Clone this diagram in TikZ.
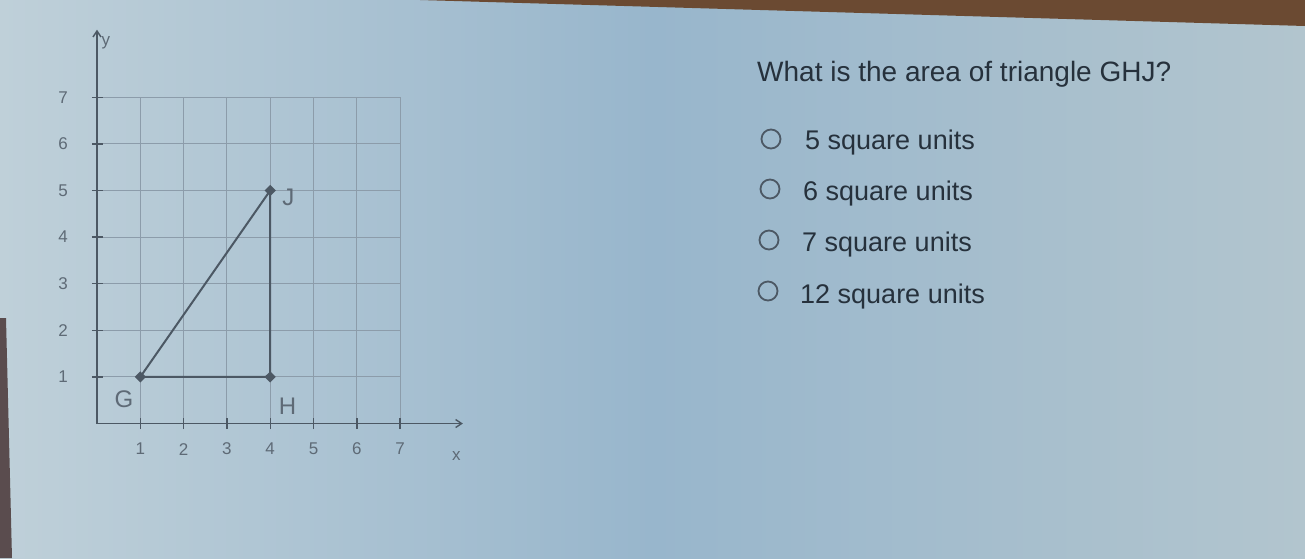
\documentclass[tikz,border=0pt]{standalone}
\usepackage{fontspec}
\setmainfont{Liberation Sans}
\usetikzlibrary{arrows.meta}
\definecolor{bgL}{HTML}{BFD0D9}
\definecolor{bgM}{HTML}{98B6CC}
\definecolor{bgR}{HTML}{B2C5CE}
\definecolor{ink}{HTML}{26313C}
\definecolor{gridc}{HTML}{8C9CAA}
\definecolor{axisc}{HTML}{4C5864}
\definecolor{tickc}{HTML}{5E6A76}
\definecolor{desk}{HTML}{6B4A32}
\definecolor{edge}{HTML}{5A4C4E}
\tikzset{
  gridline/.style={gridc, line width=1pt},
  axisline/.style={axisc, line width=1.6pt, -{Straight Barb[length=6pt,width=8pt,line width=1.4pt]}},
  tickmark/.style={axisc, line width=1.4pt},
  ticklabel/.style={text=tickc, font=\fontsize{17}{17}\selectfont, inner sep=0pt},
  ptlabel/.style={text=tickc, font=\fontsize{24}{24}\selectfont, inner sep=0pt},
  seg/.style={axisc, line width=2pt},
  question/.style={text=ink, font=\fontsize{28}{28}\selectfont, anchor=base west, inner sep=0pt},
  option/.style={text=ink, font=\fontsize{27}{27}\selectfont, anchor=west, inner sep=0pt},
  radio/.style={draw=axisc, line width=1.8pt, circle, minimum size=19pt, inner sep=0pt},
}
\begin{document}
\begin{tikzpicture}[x=1pt,y=-1pt]
\useasboundingbox (0,0) rectangle (1305,558);
\shade[left color=bgL, right color=bgR, middle color=bgM] (0,0) rectangle (1305,558);
\fill[desk] (420,0) -- (1305,0) -- (1305,26) -- cycle;
\fill[edge] (0,318) -- (6,318) -- (12,558) -- (0,558) -- cycle;
% graph
\begin{scope}[shift={(97,423.5)}, x=43.3pt, y=46.6pt]
  \foreach \i in {1,...,7} {
    \draw[gridline] (\i,0) -- (\i,7);
    \draw[gridline] (0,\i) -- (7,\i);
  }
  \coordinate (O) at (0,0);
  \coordinate (Ytop) at (0,8.45);
  \coordinate (Xend) at (8.45,0);
  \draw[axisline] (O) -- (Ytop);
  \draw[axisline] (O) -- (Xend);
  \foreach \i in {1,...,7} {
    \draw[tickmark] (\i,-0.12) -- (\i,0.12);
    \draw[tickmark] (-0.12,\i) -- (0.15,\i);
    \node[ticklabel] (xl\i) at (\i,-0.55) {\i};
    \node[ticklabel] (yl\i) at (-0.78,\i) {\i};
  }
  \node[ticklabel, anchor=west] (ylab) at (0.1,8.18) {y};
  \node[ticklabel] (xlab) at (8.3,-0.7) {x};
  \coordinate (G) at (1,1);
  \coordinate (H) at (4,1);
  \coordinate (J) at (4,5);
  \draw[seg] (G) -- (H) -- (J) -- cycle;
  \foreach \p in {G,H,J}
    \fill[axisc] (\p) ++(0,0.12) -- ++(0.13,-0.12) -- ++(-0.13,-0.12) -- ++(-0.13,0.12) -- cycle;
  \node[ptlabel] (Gl) at (0.62,0.53) {G};
  \node[ptlabel] (Hl) at (4.4,0.38) {H};
  \node[ptlabel] (Jl) at (4.42,4.85) {J};
\end{scope}
% question
\node[question] (q) at (757,81) {What is the area of triangle GHJ?};
\node[radio] (r1) at (771,139) {};
\node[radio] (r2) at (770,189) {};
\node[radio] (r3) at (769,240) {};
\node[radio] (r4) at (768,291) {};
\node[option] (o1) at (805,143) {5 square units};
\node[option] (o2) at (803,194) {6 square units};
\node[option] (o3) at (802,245) {7 square units};
\node[option] (o4) at (800,297) {12 square units};
\end{tikzpicture}
\end{document}
